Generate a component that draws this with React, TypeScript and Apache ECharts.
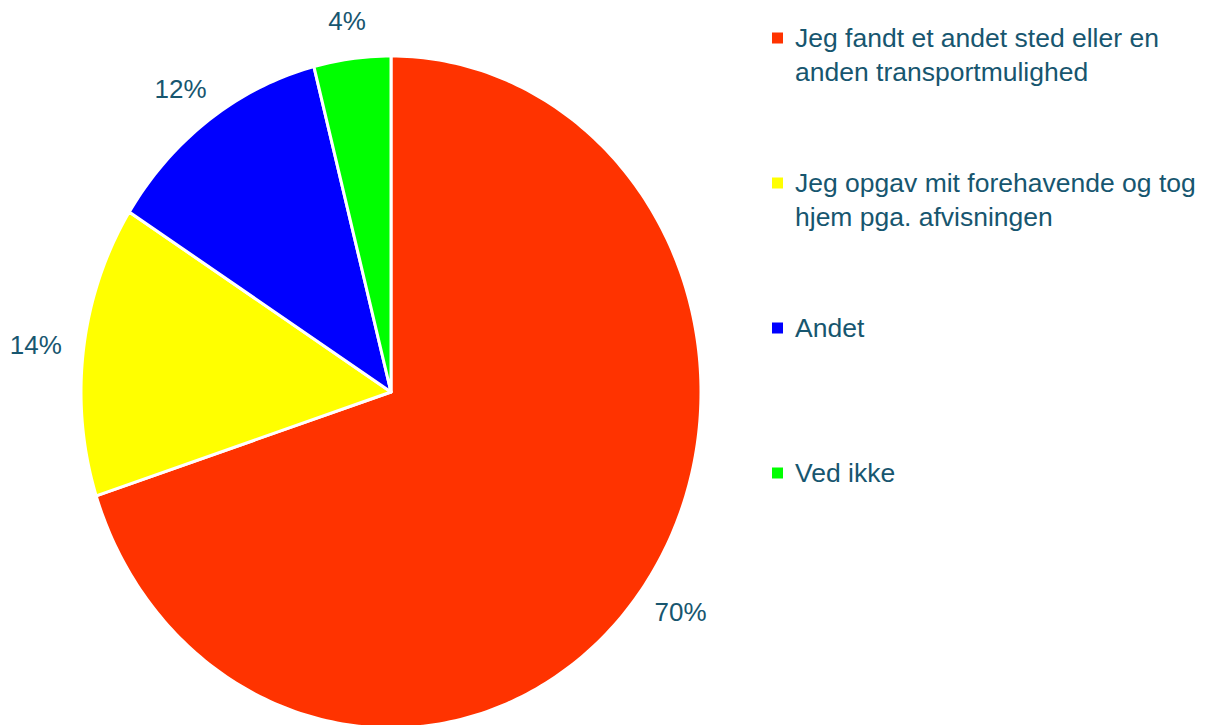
import React, { useEffect, useRef } from "react";
import * as echarts from "echarts";

const categories = [
  "Jeg fandt et andet sted eller en\nanden transportmulighed",
  "Jeg opgav mit forehavende og tog\nhjem pga. afvisningen",
  "Andet",
  "Ved ikke",
];
const values = [70, 14, 12, 4];
const colors = ["#ff3300", "#ffff00", "#0000ff", "#00ff00"];

const TEXT_COLOR = "#17566f";
const FONT_FAMILY = "'Liberation Sans', Arial, sans-serif";
const LABEL_SIZE = 26;
const LEGEND_SIZE = 26.5;

const CX = 391;
const CY = 392;
const RX = 310;
const RY = 336;
const GAP_X = 22;
const GAP_Y = 38;

function measure(text: string): number {
  const c = document.createElement("canvas").getContext("2d");
  if (!c) return text.length * 14;
  c.font = `${LABEL_SIZE}px 'Liberation Sans', Arial, sans-serif`;
  return c.measureText(text).width;
}

export default function App() {
  const ref = useRef<HTMLDivElement>(null);
  useEffect(() => {
    if (!ref.current) return;
    const chart = echarts.init(ref.current, null, { renderer: "svg" });
    const total = values.reduce((a, b) => a + b, 0);
    const starts: number[] = [];
    let acc = 0;
    values.forEach((v) => {
      starts.push(acc);
      acc += v;
    });

    const series = categories.map((name, i) => ({
      type: "custom",
      name,
      coordinateSystem: "none",
      silent: true,
      itemStyle: { color: colors[i] },
      data: [values[i]],
      renderItem: (params: any, api: any) => {
        const v = api.value(0) as number;
        const a0 = (starts[i] / total) * Math.PI * 2;
        const a1 = a0 + (v / total) * Math.PI * 2;
        const steps = Math.max(8, Math.ceil(((a1 - a0) / (Math.PI * 2)) * 360));
        const pts: number[][] = [[CX, CY]];
        for (let k = 0; k <= steps; k++) {
          const t = a0 + ((a1 - a0) * k) / steps;
          pts.push([CX + RX * Math.sin(t), CY - RY * Math.cos(t)]);
        }
        const mid = (a0 + a1) / 2;
        const s = Math.sin(mid);
        const c = -Math.cos(mid);
        const txt = `${v}%`;
        const w = measure(txt);
        const lx = CX + (RX + GAP_X) * s + (s * w) / 2;
        const ly = CY + RY * c + c * GAP_Y;
        return {
          type: "group",
          children: [
            {
              type: "polygon",
              shape: { points: pts },
              style: { fill: colors[i], stroke: "#ffffff", lineWidth: 3, lineJoin: "round" },
            },
            {
              type: "text",
              style: {
                text: txt,
                x: lx,
                y: ly,
                align: "center",
                verticalAlign: "middle",
                fontSize: LABEL_SIZE,
                fontFamily: FONT_FAMILY,
                fill: TEXT_COLOR,
              },
            },
          ],
        };
      },
    }));

    chart.setOption({
      animation: false,
      color: colors,
      backgroundColor: "#ffffff",
      legend: {
        orient: "vertical",
        left: 772,
        top: -13,
        padding: 0,
        icon: "rect",
        itemWidth: 11,
        itemHeight: 11,
        itemGap: 43,
        selectedMode: false,
        data: categories,
        formatter: (name: string) => {
          const lines = name.split("\n");
          return lines.length === 1 ? "\n" + name + "\n" : "\n" + name;
        },
        textStyle: {
          color: TEXT_COLOR,
          fontSize: LEGEND_SIZE,
          fontFamily: FONT_FAMILY,
          lineHeight: 34,
          padding: [0, 0, 0, 7],
        },
      },
      series,
    } as any);
    return () => chart.dispose();
  }, []);
  return (
    <div
      ref={ref}
      style={{ position: "absolute", left: 0, top: 0, width: 1205, height: 725 }}
    />
  );
}
